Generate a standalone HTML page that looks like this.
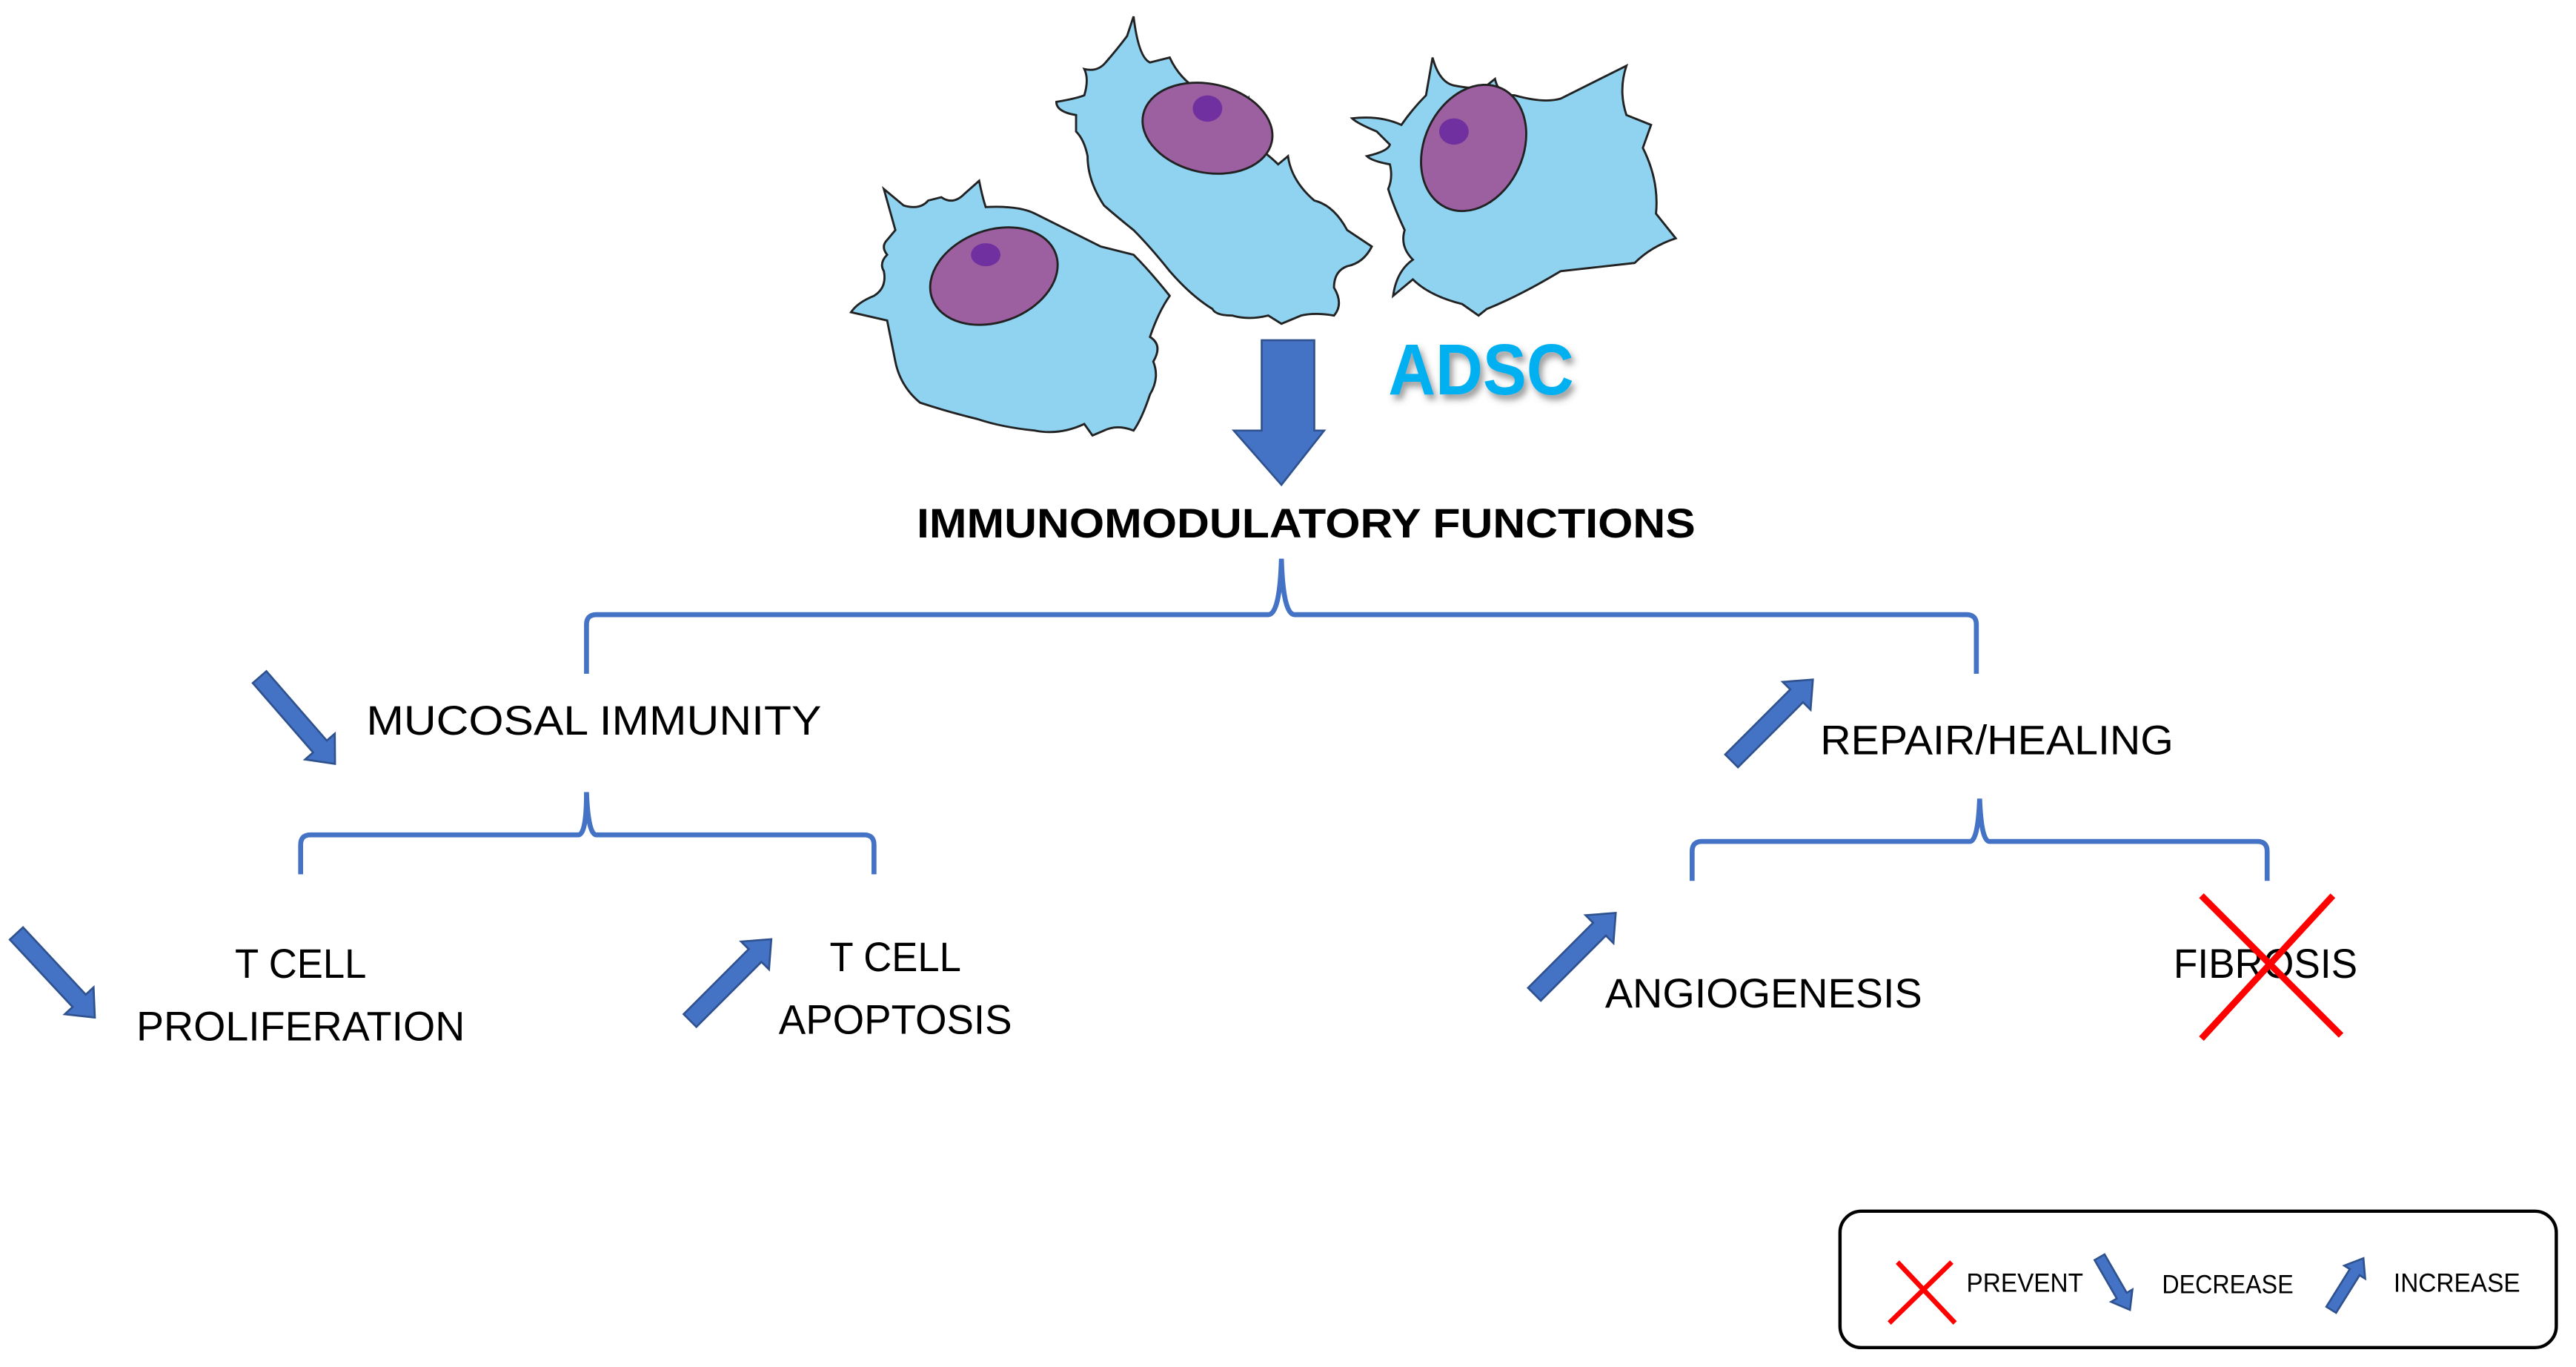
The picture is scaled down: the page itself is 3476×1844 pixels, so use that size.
<!DOCTYPE html>
<html><head><meta charset="utf-8"><style>
html,body{margin:0;padding:0;background:#fff}
svg{display:block}
text{font-family:"Liberation Sans",sans-serif}
</style></head><body>
<svg width="3476" height="1844" viewBox="0 0 1568 831.8" xmlns="http://www.w3.org/2000/svg">
<defs>
<filter id="sh" x="-20%" y="-20%" width="140%" height="160%"><feDropShadow dx="2" dy="3" stdDeviation="2" flood-color="#555" flood-opacity="0.6"/></filter>
</defs>
<!-- cells -->
<g stroke="#222" stroke-width="1.3" fill="#8fd3f1">
<!-- right cell -->
<path d="M838,80 Q826,75 823,72 Q840,70 853,76 Q860,66 868,58 L872,35 Q876,50 885,52 Q900,55 905,52 L910,48 Q912,58 922,58 Q940,63 950,60 L990,40 Q985,55 990,70 L1005,76 L1000,90 Q1010,110 1008,130 L1020,145 Q1005,150 995,160 L950,165 Q925,180 905,188 L900,192 L890,185 Q870,180 860,170 L848,180 Q850,165 860,158 Q852,150 855,140 Q848,125 845,115 Q848,108 846,100 Q835,98 832,95 Q845,92 846,88 Z"/>
<!-- middle cell -->
<path d="M655,70 Q643,68 643,62 Q655,60 660,58 Q663,48 660,42 Q668,44 673,38 Q680,30 686,22 L690,10 Q693,35 700,38 L712,35 Q718,48 730,55 Q745,62 755,70 L760,60 Q762,75 758,85 Q770,92 778,100 L784,95 Q786,110 800,122 Q812,125 820,140 L835,150 Q830,160 820,162 Q812,165 812,175 Q818,185 812,192 Q800,190 792,192 L780,197 L772,192 Q760,195 750,192 Q740,192 738,188 Q725,180 712,165 Q700,150 690,140 Q680,132 672,125 Q662,110 662,95 Q660,85 655,80 Z"/>
<!-- left cell -->
<path d="M545,140 L538,115 L550,125 Q560,128 565,122 L573,120 Q580,125 587,118 L596,110 Q598,120 600,126 Q620,125 630,130 Q650,140 670,150 L690,155 Q700,165 712,180 Q705,190 700,205 Q708,210 702,220 Q706,230 700,240 Q695,255 690,262 Q680,258 672,262 L665,265 L660,258 Q645,265 630,262 Q610,260 595,255 Q575,250 560,245 Q548,235 545,220 Q542,205 540,195 L518,190 Q522,184 532,180 Q540,175 538,165 Q535,160 540,155 Q536,150 540,146 Z"/>
</g>
<g stroke="#222" stroke-width="1.3">
<ellipse cx="605" cy="168" rx="40" ry="28" fill="#9c5fa0" transform="rotate(-20 605 168)"/>
<ellipse cx="735" cy="78" rx="40" ry="27" fill="#9c5fa0" transform="rotate(12 735 78)"/>
<ellipse cx="897" cy="90" rx="30" ry="40" fill="#9c5fa0" transform="rotate(25 897 90)"/>
</g>
<ellipse cx="600" cy="155" rx="9" ry="7" fill="#7030a0"/>
<ellipse cx="735" cy="66" rx="9" ry="8" fill="#7030a0"/>
<ellipse cx="885" cy="80" rx="9" ry="8" fill="#7030a0"/>
<!-- big down arrow -->
<polygon points="768,207 800,207 800,262 806,262 780,295 751,262 768,262" fill="#4472c4" stroke="#2f528f" stroke-width="1.2"/>
<text x="845" y="240" font-size="44" font-weight="bold" fill="#00b0f0" filter="url(#sh)" textLength="113" lengthAdjust="spacingAndGlyphs">ADSC</text>
<text x="795" y="327" font-size="25" font-weight="bold" text-anchor="middle" textLength="474" lengthAdjust="spacingAndGlyphs">IMMUNOMODULATORY FUNCTIONS</text>
<!-- braces -->
<g fill="none" stroke="#4472c4" stroke-width="3">
<path d="M357,410 L357,380 Q357,374 363,374 L772,374 Q779,374 780,340 Q781,374 788,374 L1197,374 Q1203,374 1203,380 L1203,410"/>
<path d="M183,532 L183,514 Q183,508 189,508 L352,508 Q357,508 357,482 Q358,508 363,508 L526,508 Q532,508 532,514 L532,532"/>
<path d="M1030,536 L1030,518 Q1030,512 1036,512 L1199,512 Q1204,512 1205,486 Q1206,512 1211,512 L1374,512 Q1380,512 1380,518 L1380,536"/>
</g>
<!-- labels -->
<g font-size="25" fill="#000">
<text x="223" y="447" textLength="277" lengthAdjust="spacingAndGlyphs">MUCOSAL IMMUNITY</text>
<text x="1108" y="459" textLength="215" lengthAdjust="spacingAndGlyphs">REPAIR/HEALING</text>
<text x="183" y="595" text-anchor="middle" textLength="80" lengthAdjust="spacingAndGlyphs">T CELL</text>
<text x="183" y="633" text-anchor="middle" textLength="200" lengthAdjust="spacingAndGlyphs">PROLIFERATION</text>
<text x="545" y="591" text-anchor="middle" textLength="80" lengthAdjust="spacingAndGlyphs">T CELL</text>
<text x="545" y="629" text-anchor="middle" textLength="142" lengthAdjust="spacingAndGlyphs">APOPTOSIS</text>
<text x="977" y="613" textLength="193" lengthAdjust="spacingAndGlyphs">ANGIOGENESIS</text>
<text x="1323" y="595" textLength="112" lengthAdjust="spacingAndGlyphs">FIBROSIS</text>
</g>
<!-- fibrosis X -->
<g stroke="#ff0000" stroke-width="4">
<line x1="1340" y1="545" x2="1425" y2="630"/>
<line x1="1420" y1="545" x2="1340" y2="632"/>
</g>
<!-- legend -->
<rect x="1120" y="737" width="436" height="83" rx="13" fill="#fff" stroke="#000" stroke-width="2"/>
<g stroke="#ff0000" stroke-width="3">
<line x1="1155" y1="768" x2="1190" y2="805"/>
<line x1="1188" y1="768" x2="1150" y2="805"/>
</g>
<g font-size="16" fill="#000">
<text x="1197" y="786" textLength="71" lengthAdjust="spacingAndGlyphs">PREVENT</text>
<text x="1316" y="787" textLength="80" lengthAdjust="spacingAndGlyphs">DECREASE</text>
<text x="1457" y="786" textLength="77" lengthAdjust="spacingAndGlyphs">INCREASE</text>
</g>
<!-- block arrows -->
<g fill="#4472c4" stroke="#2f528f" stroke-width="1.2">
<polygon transform="translate(158,412) rotate(49)" points="0,-5.5 56,-5.5 56,-12 70,0 56,12 56,5.5 0,5.5"/>
<polygon transform="translate(10,568) rotate(47)" points="0,-5.5 56,-5.5 56,-12 70,0 56,12 56,5.5 0,5.5"/>
<polygon transform="translate(420,621) rotate(-45)" points="0,-5.5 56,-5.5 56,-12 70,0 56,12 56,5.5 0,5.5"/>
<polygon transform="translate(1054,463) rotate(-45)" points="0,-5.5 56,-5.5 56,-12 70,0 56,12 56,5.5 0,5.5"/>
<polygon transform="translate(934,605) rotate(-45)" points="0,-5.5 56,-5.5 56,-12 70,0 56,12 56,5.5 0,5.5"/>
<polygon transform="translate(1278,765) rotate(60)" points="0,-3.5 27,-3.5 27,-7.5 37,0 27,7.5 27,3.5 0,3.5"/>
<polygon transform="translate(1419,797) rotate(-58)" points="0,-3.5 27,-3.5 27,-7.5 37,0 27,7.5 27,3.5 0,3.5"/>
</g>
</svg>
</body></html>
